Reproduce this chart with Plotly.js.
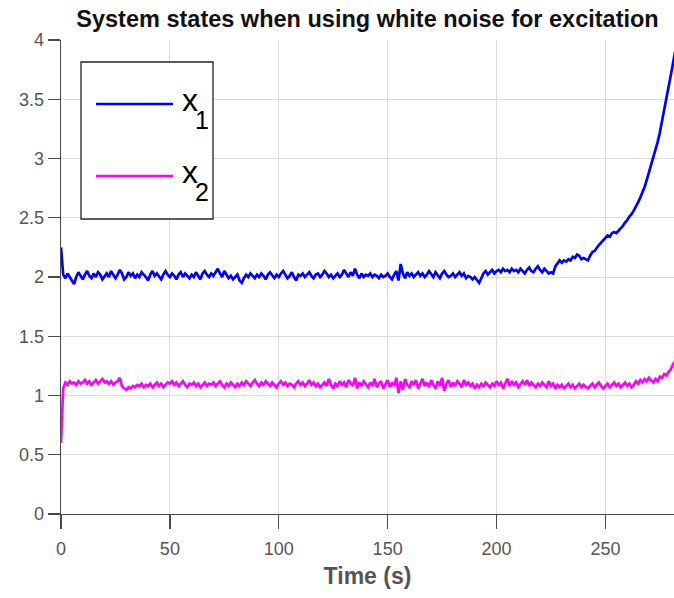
<!DOCTYPE html>
<html>
<head>
<meta charset="utf-8">
<script src="https://cdn.plot.ly/plotly-3.0.1.min.js"></script>
<style>html,body{margin:0;padding:0;background:#fff;}#chart{width:674px;height:598px;}</style>
</head>
<body>
<div id="chart"></div>
<script>
// Time step of the samples (s); samples start at t = 0
const timeStart = 0;
const timeStep = 1;

// State x1 (one sample per second)
const x1 = [
  2.25, 2.02, 1.99, 2.03, 2.00, 1.97, 1.94, 2.00, 2.04, 2.01,
  1.98, 2.02, 2.05, 2.01, 1.99, 2.03, 2.00, 2.04, 2.02, 1.98,
  2.01, 2.03, 2.00, 2.05, 2.02, 1.99, 2.02, 2.06, 2.03, 1.98,
  2.00, 2.04, 2.01, 2.03, 1.99, 2.02, 2.00, 2.04, 2.02, 2.00,
  1.97, 2.02, 2.05, 2.01, 2.03, 2.00, 1.98, 2.02, 2.05, 2.02,
  2.00, 2.03, 2.01, 1.98, 2.02, 2.04, 2.00, 2.03, 2.01, 1.99,
  2.02, 2.00, 2.04, 2.01, 1.98, 2.03, 2.05, 2.02, 2.00, 2.03,
  2.01, 2.04, 2.07, 2.03, 2.00, 2.05, 2.02, 1.99, 2.01, 1.98,
  2.00, 2.02, 1.97, 1.95, 1.99, 2.02, 2.00, 2.03, 2.01, 1.99,
  2.02, 2.00, 2.03, 2.01, 1.98, 2.02, 2.04, 2.01, 1.99, 2.02,
  2.00, 2.03, 2.05, 2.02, 1.99, 2.01, 2.04, 2.00, 1.97, 2.02,
  2.01, 2.03, 2.00, 2.02, 2.04, 2.01, 1.99, 2.02, 2.03, 2.00,
  2.02, 2.05, 2.03, 2.00, 2.02, 1.99, 2.01, 2.03, 2.00, 2.02,
  2.06, 2.03, 2.00, 2.04, 2.01, 2.07, 2.02, 1.99, 2.03, 2.00,
  2.02, 2.01, 2.03, 2.00, 2.02, 2.01, 1.99, 2.02, 2.00, 2.01,
  2.03, 2.00, 1.98, 2.02, 2.05, 1.97, 2.11, 2.03, 1.99, 2.04,
  2.01, 2.03, 2.00, 2.02, 2.04, 2.01, 2.03, 2.00, 2.02, 2.05,
  2.02, 2.00, 2.04, 2.01, 1.99, 2.03, 2.05, 2.02, 2.00, 2.01,
  2.03, 2.00, 2.02, 2.04, 2.01, 2.03, 1.99, 2.01, 2.00, 1.98,
  2.00, 1.97, 1.95, 1.99, 2.03, 2.05, 2.02, 2.04, 2.06, 2.03,
  2.05, 2.06, 2.04, 2.07, 2.05, 2.06, 2.04, 2.07, 2.05, 2.06,
  2.04, 2.07, 2.05, 2.03, 2.06, 2.08, 2.05, 2.04, 2.07, 2.09,
  2.06, 2.04, 2.07, 2.05, 2.03, 2.04, 2.03, 2.09, 2.12, 2.14,
  2.12, 2.14, 2.13, 2.15, 2.14, 2.17, 2.16, 2.19, 2.18, 2.15,
  2.16, 2.15, 2.14, 2.18, 2.21, 2.22, 2.25, 2.27, 2.29, 2.31,
  2.33, 2.35, 2.34, 2.37, 2.38, 2.37, 2.39, 2.41, 2.43, 2.46,
  2.48, 2.51, 2.53, 2.56, 2.59, 2.63, 2.67, 2.71, 2.76, 2.82,
  2.88, 2.94, 3.00, 3.07, 3.14, 3.22, 3.31, 3.40, 3.50, 3.60,
  3.70, 3.80, 3.90
];

// State x2 (one sample per second)
const x2 = [
  0.60, 1.06, 1.11, 1.09, 1.12, 1.10, 1.11, 1.09, 1.12, 1.10,
  1.11, 1.13, 1.10, 1.12, 1.09, 1.11, 1.13, 1.10, 1.12, 1.14,
  1.11, 1.12, 1.10, 1.12, 1.09, 1.11, 1.12, 1.15, 1.08, 1.06,
  1.05, 1.07, 1.06, 1.08, 1.07, 1.09, 1.08, 1.10, 1.07, 1.09,
  1.08, 1.10, 1.07, 1.09, 1.11, 1.08, 1.10, 1.07, 1.09, 1.11,
  1.10, 1.12, 1.09, 1.11, 1.08, 1.10, 1.12, 1.09, 1.07, 1.10,
  1.09, 1.11, 1.08, 1.10, 1.07, 1.09, 1.11, 1.08, 1.10, 1.09,
  1.11, 1.08, 1.10, 1.12, 1.09, 1.07, 1.10, 1.08, 1.11, 1.09,
  1.07, 1.10, 1.08, 1.11, 1.09, 1.12, 1.10, 1.08, 1.11, 1.13,
  1.10, 1.08, 1.11, 1.09, 1.12, 1.10, 1.08, 1.11, 1.09, 1.07,
  1.10, 1.12, 1.09, 1.11, 1.08, 1.10, 1.09, 1.07, 1.10, 1.12,
  1.09, 1.11, 1.08, 1.10, 1.13, 1.09, 1.11, 1.08, 1.10, 1.07,
  1.09, 1.11, 1.08, 1.14, 1.09, 1.06, 1.10, 1.08, 1.12, 1.09,
  1.11, 1.07, 1.13, 1.10, 1.08, 1.15, 1.06, 1.11, 1.08, 1.12,
  1.09, 1.07, 1.11, 1.08, 1.14, 1.07, 1.10, 1.12, 1.06, 1.09,
  1.13, 1.07, 1.11, 1.08, 1.15, 1.02, 1.12, 1.05, 1.14, 1.09,
  1.07, 1.12, 1.09, 1.13, 1.06, 1.10, 1.14, 1.08, 1.11, 1.07,
  1.13, 1.09, 1.06, 1.12, 1.08, 1.15, 1.04, 1.10, 1.13, 1.07,
  1.11, 1.08, 1.12, 1.10, 1.07, 1.13, 1.09, 1.11, 1.08, 1.10,
  1.06, 1.09, 1.07, 1.10, 1.08, 1.11, 1.09, 1.07, 1.10, 1.08,
  1.12, 1.09, 1.11, 1.06, 1.10, 1.14, 1.08, 1.12, 1.09, 1.11,
  1.07, 1.10, 1.12, 1.09, 1.13, 1.08, 1.11, 1.09, 1.07, 1.10,
  1.08, 1.11, 1.09, 1.07, 1.12, 1.08, 1.10, 1.06, 1.09, 1.07,
  1.09, 1.06, 1.08, 1.10, 1.07, 1.09, 1.06, 1.08, 1.10, 1.07,
  1.09, 1.07, 1.06, 1.08, 1.10, 1.07, 1.09, 1.11, 1.08, 1.06,
  1.08, 1.10, 1.07, 1.09, 1.11, 1.08, 1.10, 1.07, 1.09, 1.11,
  1.08, 1.10, 1.07, 1.09, 1.12, 1.10, 1.13, 1.11, 1.14, 1.12,
  1.15, 1.13, 1.11, 1.14, 1.12, 1.16, 1.15, 1.18, 1.17, 1.20,
  1.22, 1.26, 1.29
];

const xTicks = [0, 50, 100, 150, 200, 250];
const yTicks = [0, 0.5, 1, 1.5, 2, 2.5, 3, 3.5, 4];
const titleText = 'System states when using white noise for excitation';
const xTitle = 'Time (s)';

const FONT = 'Liberation Sans, Arial, Helvetica, sans-serif';
const AX = '#4a4a4a';

const traces = [
  {x0: timeStart, dx: timeStep, y: x1, type: 'scatter', mode: 'lines',
   line: {color: '#0000ff', width: 2.7}, name: 'x1', showlegend: false},
  {x0: timeStart, dx: timeStep, y: x2, type: 'scatter', mode: 'lines',
   line: {color: '#ff00ff', width: 2.7}, name: 'x2', showlegend: false}
];

// legend box drawn in paper coordinates
const L = 61, T = 40, W = 613, H = 474;
const px = v => (v - L) / W;
const py = v => (T + H - v) / H;

const layout = {
  width: 674, height: 598,
  margin: {l: 61, r: 0, t: 40, b: 84},
  paper_bgcolor: '#fff', plot_bgcolor: '#fff',
  font: {family: FONT, color: AX},
  showlegend: false,
  title: {text: '<b>' + titleText + '</b>', font: {family: FONT, size: 23.5, color: '#111'},
          x: 0.5, xref: 'paper', xanchor: 'center', y: 1, yref: 'container', yanchor: 'top', pad: {t: 11}},
  xaxis: {
    range: [0, 281.5], tickvals: xTicks, ticktext: xTicks.map(String),
    showgrid: true, gridcolor: '#dcdcdc', gridwidth: 1, zeroline: false,
    showline: true, linecolor: AX, linewidth: 1.4, mirror: false,
    ticks: 'outside', ticklen: 14, tickwidth: 1.4, tickcolor: AX,
    ticklabelstandoff: 4,
    tickfont: {family: FONT, size: 18, color: '#555'},
    title: {text: '<b>' + xTitle + '</b>', font: {family: FONT, size: 23, color: '#555'}, standoff: 10}
  },
  yaxis: {
    range: [0, 4], tickvals: yTicks, ticktext: yTicks.map(String),
    showgrid: true, gridcolor: '#dcdcdc', gridwidth: 1, zeroline: false,
    showline: true, linecolor: AX, linewidth: 1.4, mirror: false,
    ticks: 'outside', ticklen: 12, tickwidth: 1.4, tickcolor: AX,
    tickfont: {family: FONT, size: 18, color: '#555'}
  },
  shapes: [
    {type: 'rect', xref: 'paper', yref: 'paper', x0: px(81), x1: px(213), y0: py(62), y1: py(219),
     line: {color: '#262626', width: 1.3}, fillcolor: '#fff', layer: 'above'},
    {type: 'line', xref: 'paper', yref: 'paper', x0: px(96), x1: px(173), y0: py(104), y1: py(104),
     line: {color: '#0000ff', width: 2.7}, layer: 'above'},
    {type: 'line', xref: 'paper', yref: 'paper', x0: px(96), x1: px(173), y0: py(176), y1: py(176),
     line: {color: '#ff00ff', width: 2.7}, layer: 'above'}
  ],
  annotations: [
    {text: 'x', xref: 'paper', yref: 'paper', x: px(180), y: py(100), xanchor: 'left', yanchor: 'middle',
     showarrow: false, font: {family: FONT, size: 32, color: '#000'}},
    {text: '1', xref: 'paper', yref: 'paper', x: px(193), y: py(120), xanchor: 'left', yanchor: 'middle',
     showarrow: false, font: {family: FONT, size: 25, color: '#000'}},
    {text: 'x', xref: 'paper', yref: 'paper', x: px(180), y: py(172), xanchor: 'left', yanchor: 'middle',
     showarrow: false, font: {family: FONT, size: 32, color: '#000'}},
    {text: '2', xref: 'paper', yref: 'paper', x: px(193), y: py(192), xanchor: 'left', yanchor: 'middle',
     showarrow: false, font: {family: FONT, size: 25, color: '#000'}}
  ]
};

Plotly.newPlot('chart', traces, layout, {staticPlot: true, displayModeBar: false});
</script>
</body>
</html>
